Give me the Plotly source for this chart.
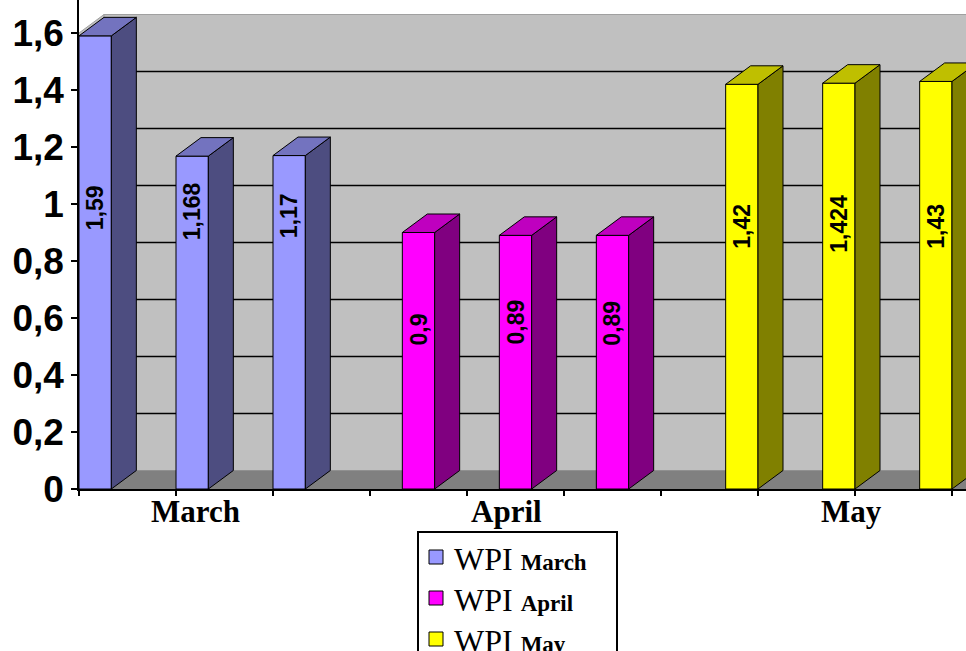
import plotly.graph_objects as go

# WPI readings, three per month
months = ["March", "April", "May"]
wpi_march = [1.59, 1.168, 1.17]
wpi_april = [0.9, 0.89, 0.89]
wpi_may = [1.42, 1.424, 1.43]
y_ticks = [0, 0.2, 0.4, 0.6, 0.8, 1.0, 1.2, 1.4, 1.6]

# category slot of each reading (nine slots, three lanes per slot)
slots_march = [0, 1, 2]
slots_april = [3, 4, 5]
slots_may = [6, 7, 8]

# where the rotated value labels sit on each column, and month captions
label_y_march = [0.986, 0.975, 0.958]
label_y_april = [0.558, 0.586, 0.582]
label_y_may = [0.923, 0.930, 0.923]
month_label_x = [0.696, 3.912, 7.469]

# --- geometry of the pseudo-3D box -------------------------------------
FIG_W, FIG_H = 966, 651
LEFT = 79
PX_PER_CAT = 97.0
PX_PER_UNIT = 285.0
PLOT_W, PLOT_H = FIG_W - LEFT, 489
DX = 25 / PX_PER_CAT          # depth offset, x (category units)
DY = 18.5 / PX_PER_UNIT       # depth offset, y (value units)
X_MIN = -0.5
X_MAX = X_MIN + PLOT_W / PX_PER_CAT
Y_MAX = PLOT_H / PX_PER_UNIT
LANE_W = 1 / 3
WALL_TOP = y_ticks[-1]

series = [
    dict(name="March", values=wpi_march, slots=slots_march, lane=0, label_y=label_y_march,
         front="#9999FF", side="#4D4D80", top="#7373BF"),
    dict(name="April", values=wpi_april, slots=slots_april, lane=1, label_y=label_y_april,
         front="#FF00FF", side="#800080", top="#BF00BF"),
    dict(name="May", values=wpi_may, slots=slots_may, lane=2, label_y=label_y_may,
         front="#FFFF00", side="#808000", top="#BFBF00"),
]


def fmt(v):
    return f"{v:g}".replace(".", ",")


def px_x(px):
    """pixel column -> paper x"""
    return (px - LEFT) / PLOT_W


def px_y(py):
    """pixel row -> paper y"""
    return (PLOT_H - py) / PLOT_H


fig = go.Figure()

# front faces
for s in series:
    offset = -0.5 + s["lane"] * LANE_W
    fig.add_trace(go.Bar(
        x=s["slots"], y=s["values"], width=LANE_W, offset=offset,
        marker=dict(color=s["front"], line=dict(color="black", width=1)),
        name=f"WPI {s['name']}", showlegend=False, hoverinfo="skip",
    ))

# side and top faces
for s in series:
    offset = -0.5 + s["lane"] * LANE_W
    sx, sy, tx, ty = [], [], [], []
    for c, v in zip(s["slots"], s["values"]):
        x0 = c + offset
        x1 = x0 + LANE_W
        sx += [x1, x1 + DX, x1 + DX, x1, x1, None]
        sy += [0, DY, v + DY, v, 0, None]
        tx += [x0, x0 + DX, x1 + DX, x1, x0, None]
        ty += [v, v + DY, v + DY, v, v, None]
    for xs, ys, col in ((sx, sy, s["side"]), (tx, ty, s["top"])):
        fig.add_trace(go.Scatter(
            x=xs, y=ys, mode="lines", fill="toself", fillcolor=col,
            line=dict(color="black", width=1), showlegend=False, hoverinfo="skip",
        ))

# rotated value labels
annotations = []
for s in series:
    for c, v, ly in zip(s["slots"], s["values"], s["label_y"]):
        annotations.append(dict(
            x=c - 0.5 + s["lane"] * LANE_W + LANE_W / 2, y=ly, xref="x", yref="y",
            text=fmt(v), textangle=-90, showarrow=False,
            font=dict(family="Liberation Sans", size=23, color="black", weight="bold"),
        ))

# month captions under the axis
for m, mx in zip(months, month_label_x):
    annotations.append(dict(
        x=mx, y=0, xref="x", yref="paper", yanchor="middle", yshift=-22,
        text=f"<b>{m}</b>", showarrow=False,
        font=dict(family="Liberation Serif", size=31, color="black"),
    ))

# walls, floor and gridlines behind the columns
shapes = [
    dict(type="path", layer="below", line=dict(color="#A0A0A0", width=1), fillcolor="#C0C0C0",
         path=f"M{X_MIN},0 L{X_MIN + DX},{DY} L{X_MIN + DX},{WALL_TOP + DY} L{X_MIN},{WALL_TOP} Z"),
    dict(type="rect", layer="below", line=dict(color="#A0A0A0", width=1), fillcolor="#C0C0C0",
         x0=X_MIN + DX, x1=X_MAX + 1, y0=DY, y1=WALL_TOP + DY),
    dict(type="path", layer="below", line=dict(width=0), fillcolor="#808080",
         path=f"M{X_MIN},0 L{X_MAX + 1},0 L{X_MAX + 1},{DY} L{X_MIN + DX},{DY} Z"),
]
for t in y_ticks[1:-1]:
    shapes.append(dict(type="line", layer="below", line=dict(color="black", width=1.5),
                       x0=X_MIN + DX, x1=X_MAX + 1, y0=t + DY, y1=t + DY))
    shapes.append(dict(type="line", layer="below", line=dict(color="black", width=1.5),
                       x0=X_MIN, x1=X_MIN + DX, y0=t, y1=t + DY))

# legend box below the chart
LEG_LEFT, LEG_RIGHT, LEG_TOP = 418, 617, 532
LEG_ROW0, LEG_ROW_STEP = 557, 41
shapes.append(dict(type="rect", xref="paper", yref="paper", layer="above",
                   x0=px_x(LEG_LEFT), x1=px_x(LEG_RIGHT), y0=px_y(LEG_TOP), y1=px_y(FIG_H + 40),
                   line=dict(color="black", width=2), fillcolor="white"))
for i, s in enumerate(series):
    cy = LEG_ROW0 + i * LEG_ROW_STEP
    shapes.append(dict(type="rect", xref="paper", yref="paper", layer="above",
                       x0=px_x(429), x1=px_x(443), y0=px_y(cy - 7), y1=px_y(cy + 7),
                       line=dict(color="black", width=1), fillcolor=s["front"]))
    annotations.append(dict(
        x=px_x(452), y=px_y(cy), xref="paper", yref="paper", xanchor="left", yanchor="middle",
        yshift=-2, showarrow=False,
        text=f"WPI <b><span style='font-size:23px'>{s['name']}</span></b>",
        font=dict(family="Liberation Serif", size=32, color="black"),
    ))

fig.update_layout(
    width=FIG_W, height=FIG_H,
    margin=dict(l=LEFT, r=0, t=0, b=FIG_H - PLOT_H, autoexpand=False),
    paper_bgcolor="white", plot_bgcolor="white",
    barmode="overlay", showlegend=False,
    shapes=shapes, annotations=annotations,
    xaxis=dict(
        range=[X_MIN, X_MAX], tickvals=[c - 0.5 for c in range(10)], ticktext=[""] * 10,
        ticks="outside", ticklen=5, tickwidth=1.5, tickcolor="black",
        showline=True, linecolor="black", linewidth=1.5,
        showgrid=False, zeroline=False, fixedrange=True,
    ),
    yaxis=dict(
        range=[0, Y_MAX], tickvals=y_ticks, ticktext=[fmt(t) for t in y_ticks],
        ticks="outside", ticklen=6, tickwidth=1.5, tickcolor="black",
        tickfont=dict(family="Liberation Sans", size=37, color="black", weight="bold"),
        showline=True, linecolor="black", linewidth=1.5,
        showgrid=False, zeroline=False, fixedrange=True,
    ),
)

fig.write_html("out.html")
